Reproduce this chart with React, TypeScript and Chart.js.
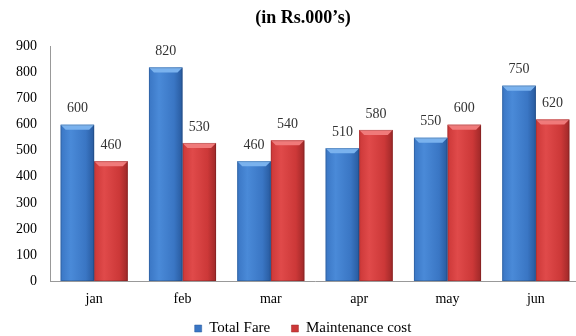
import React, { useEffect, useRef } from "react";
import { Chart, registerables } from "chart.js";

Chart.register(...registerables);

const categories = ["jan", "feb", "mar", "apr", "may", "jun"];
const totalFare = [600, 820, 460, 510, 550, 750];
const maintenanceCost = [460, 530, 540, 580, 600, 620];
const yTicks = [0, 100, 200, 300, 400, 500, 600, 700, 800, 900];

const SERIF = "'Liberation Serif', 'Times New Roman', serif";

const shades: Record<string, { light: string; mid: string; dark: string; top: string }> = {
  blue: { light: "#4a8ad8", mid: "#3a76c4", dark: "#285a9e", top: "#7ab2ee" },
  red: { light: "#e04a4a", mid: "#cc3838", dark: "#9e2828", top: "#f07a7a" },
};

const barStylePlugin = {
  id: "barStyle",
  afterDatasetDraw(chart: any, args: any) {
    const ctx = chart.ctx;
    const ds = chart.data.datasets[args.index];
    const sh = shades[ds.shade];
    const meta = args.meta;
    ctx.save();
    meta.data.forEach((bar: any) => {
      const { x, y, base, width } = bar.getProps(["x", "y", "base", "width"], true);
      const l = x - width / 2;
      const r = x + width / 2;
      const g = ctx.createLinearGradient(l, 0, r, 0);
      g.addColorStop(0, sh.mid);
      g.addColorStop(0.3, sh.light);
      g.addColorStop(0.75, sh.mid);
      g.addColorStop(1, sh.dark);
      ctx.fillStyle = g;
      ctx.fillRect(l, y, width, base - y);
      const bh = 5;
      ctx.beginPath();
      ctx.moveTo(l, y);
      ctx.lineTo(r, y);
      ctx.lineTo(r - bh, y + bh);
      ctx.lineTo(l + bh, y + bh);
      ctx.closePath();
      ctx.fillStyle = sh.top;
      ctx.fill();
      ctx.strokeStyle = "rgba(0,0,0,0.15)";
      ctx.lineWidth = 1;
      ctx.strokeRect(l + 0.5, y + 0.5, width - 1, base - y - 1);
    });
    ctx.restore();
  },
};

const valueLabelPlugin = {
  id: "valueLabels",
  afterDatasetsDraw(chart: any) {
    const ctx = chart.ctx;
    ctx.save();
    ctx.font = `14px ${SERIF}`;
    ctx.fillStyle = "#333";
    ctx.textAlign = "center";
    ctx.textBaseline = "bottom";
    chart.data.datasets.forEach((ds: any, i: number) => {
      const meta = chart.getDatasetMeta(i);
      meta.data.forEach((bar: any, j: number) => {
        ctx.fillText(String(ds.data[j]), bar.x, bar.y - 9);
      });
    });
    ctx.restore();
  },
};

export default function App() {
  const ref = useRef<HTMLCanvasElement>(null);
  useEffect(() => {
    document.body.style.margin = "0";
    const chart = new Chart(ref.current!, {
      type: "bar",
      data: {
        labels: categories,
        datasets: [
          {
            label: "Total Fare",
            data: totalFare,
            backgroundColor: "#3a76c4",
            borderColor: "#285a9e",
            borderWidth: 0.5,
            shade: "blue",
          } as any,
          {
            label: "Maintenance cost",
            data: maintenanceCost,
            backgroundColor: "#cc3838",
            borderColor: "#9e2828",
            borderWidth: 0.5,
            shade: "red",
          } as any,
        ],
      },
      options: {
        responsive: false,
        animation: false,
        layout: { padding: { left: 11, right: 11, top: 0, bottom: -10 } },
        datasets: {
          bar: { categoryPercentage: 0.76, barPercentage: 1.0 },
        },
        scales: {
          x: {
            grid: { display: false },
            border: { color: "#999", width: 1 },
            ticks: { color: "#000", font: { family: SERIF, size: 14 }, padding: 2 },
            afterFit: (scale: any) => {
              scale.height = 30;
            },
          },
          y: {
            min: 0,
            max: 900,
            afterBuildTicks: (scale: any) => {
              scale.ticks = yTicks.map((v) => ({ value: v }));
            },
            grid: { display: false },
            border: { color: "#999", width: 1 },
            ticks: { color: "#000", font: { family: SERIF, size: 14 }, padding: 5 },
          },
          yRight: {
            position: "right",
            min: 0,
            max: 900,
            grid: { display: false },
            border: { display: false },
            ticks: { display: false },
            afterFit: (scale: any) => {
              scale.width = 15;
            },
          },
        },
        plugins: {
          title: {
            display: true,
            text: "(in Rs.000’s)",
            color: "#000",
            font: { family: SERIF, size: 18, weight: "bold" },
            padding: { top: 8, bottom: 17 },
          },
          legend: {
            position: "bottom",
            labels: {
              color: "#000",
              font: { family: SERIF, size: 15 },
              boxWidth: 7,
              boxHeight: 7,
              padding: 10,
              generateLabels: (chart: any) => {
                const items = Chart.defaults.plugins.legend.labels.generateLabels(chart);
                items.forEach((it: any, i: number) => {
                  if (i < items.length - 1) it.text = it.text + "\u00a0\u00a0\u00a0";
                });
                return items;
              },
            },
          },
          tooltip: { enabled: false },
        },
      },
      plugins: [barStylePlugin, valueLabelPlugin],
    });
    return () => chart.destroy();
  }, []);
  return (
    <div style={{ position: "fixed", left: 0, top: 0, width: 576, height: 336, overflow: "hidden", background: "#fff" }}>
      <canvas ref={ref} width={606} height={336} style={{ display: "block" }} />
    </div>
  );
}
